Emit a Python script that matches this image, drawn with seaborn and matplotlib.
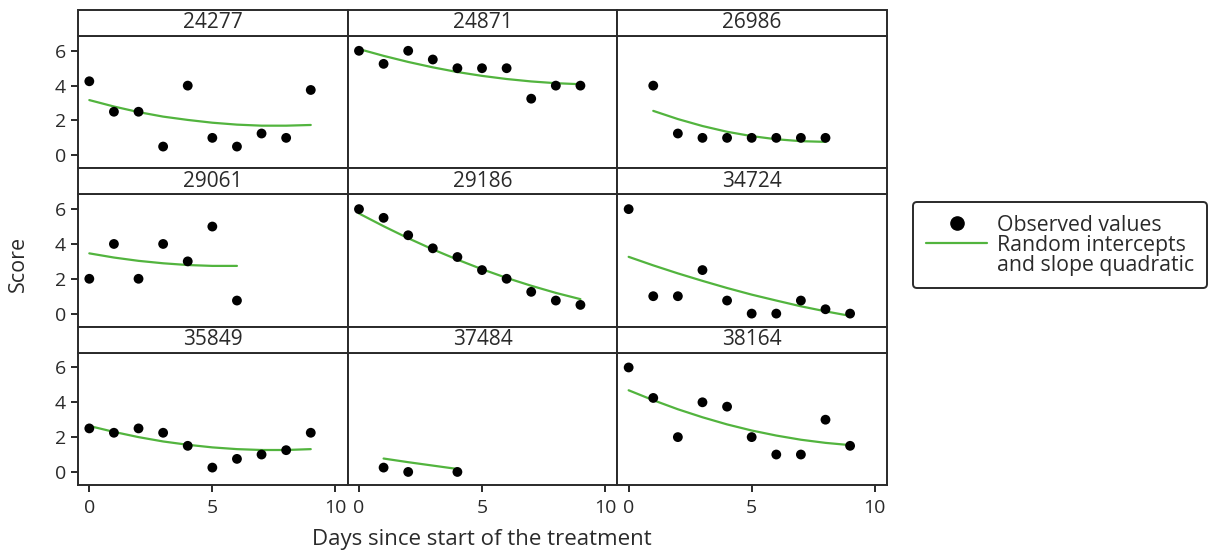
import numpy as np
import pandas as pd
import matplotlib
matplotlib.use("Agg")
import matplotlib.pyplot as plt
from matplotlib.patches import Rectangle
from matplotlib.lines import Line2D
import seaborn as sns

# Subject identifiers, in panel order
subjects = ["24277", "24871", "26986", "29061", "29186",
            "34724", "35849", "37484", "38164"]

# Days on which each subject was scored
days_24277 = [0, 1, 2, 3, 4, 5, 6, 7, 8, 9]
days_24871 = [0, 1, 2, 3, 4, 5, 6, 7, 8, 9]
days_26986 = [1, 2, 3, 4, 5, 6, 7, 8]
days_29061 = [0, 1, 2, 3, 4, 5, 6]
days_29186 = [0, 1, 2, 3, 4, 5, 6, 7, 8, 9]
days_34724 = [0, 1, 2, 3, 4, 5, 6, 7, 8, 9]
days_35849 = [0, 1, 2, 3, 4, 5, 6, 7, 8, 9]
days_37484 = [1, 2, 4]
days_38164 = [0, 1, 2, 3, 4, 5, 6, 7, 8, 9]

# Observed scores
obs_24277 = [4.25, 2.5, 2.5, 0.5, 4.0, 1.0, 0.5, 1.25, 1.0, 3.75]
obs_24871 = [6.0, 5.25, 6.0, 5.5, 5.0, 5.0, 5.0, 3.25, 4.0, 4.0]
obs_26986 = [4.0, 1.25, 1.0, 1.0, 1.0, 1.0, 1.0, 1.0]
obs_29061 = [2.0, 4.0, 2.0, 4.0, 3.0, 5.0, 0.75]
obs_29186 = [6.0, 5.5, 4.5, 3.75, 3.25, 2.5, 2.0, 1.25, 0.75, 0.5]
obs_34724 = [6.0, 1.0, 1.0, 2.5, 0.75, 0.0, 0.0, 0.75, 0.25, 0.0]
obs_35849 = [2.5, 2.25, 2.5, 2.25, 1.5, 0.25, 0.75, 1.0, 1.25, 2.25]
obs_37484 = [0.25, 0.0, 0.0]
obs_38164 = [6.0, 4.25, 2.0, 4.0, 3.75, 2.0, 1.0, 1.0, 3.0, 1.5]

# Fitted values from the random intercepts and slope quadratic model
fit_24277 = [3.17, 2.80, 2.48, 2.22, 2.03, 1.87, 1.76, 1.70, 1.70, 1.74]
fit_24871 = [6.10, 5.71, 5.36, 5.05, 4.78, 4.56, 4.38, 4.24, 4.14, 4.08]
fit_26986 = [2.55, 2.08, 1.68, 1.35, 1.10, 0.92, 0.81, 0.77]
fit_29061 = [3.46, 3.22, 3.03, 2.89, 2.79, 2.74, 2.74]
fit_29186 = [5.75, 5.02, 4.33, 3.69, 3.10, 2.55, 2.05, 1.60, 1.19, 0.83]
fit_34724 = [3.26, 2.77, 2.31, 1.88, 1.47, 1.09, 0.75, 0.42, 0.13, -0.13]
fit_35849 = [2.64, 2.30, 2.00, 1.75, 1.56, 1.41, 1.31, 1.26, 1.26, 1.31]
fit_37484 = [0.77, 0.56, 0.17]
fit_38164 = [4.69, 4.12, 3.60, 3.14, 2.73, 2.38, 2.09, 1.85, 1.67, 1.54]

days_all = [days_24277, days_24871, days_26986, days_29061, days_29186,
            days_34724, days_35849, days_37484, days_38164]
obs_all = [obs_24277, obs_24871, obs_26986, obs_29061, obs_29186,
           obs_34724, obs_35849, obs_37484, obs_38164]
fit_all = [fit_24277, fit_24871, fit_26986, fit_29061, fit_29186,
           fit_34724, fit_35849, fit_37484, fit_38164]

x_ticks = [0, 5, 10]
y_ticks = [0, 2, 4, 6]

rows = []
for sid, d, o, f in zip(subjects, days_all, obs_all, fit_all):
    for di, oi, fi in zip(d, o, f):
        rows.append({"subject": sid, "day": di, "score": oi, "fitted": fi})
df = pd.DataFrame(rows)

sns.set_style("ticks")
plt.rcParams["font.family"] = ["Open Sans", "DejaVu Sans"]
INK = "#2a2a2a"
GREEN = "#52b43e"
plt.rcParams.update({
    "text.color": INK, "axes.edgecolor": INK, "xtick.color": INK,
    "ytick.color": INK, "axes.labelcolor": INK, "axes.linewidth": 1.4,
    "xtick.major.width": 1.4, "ytick.major.width": 1.4,
    "xtick.major.size": 5, "ytick.major.size": 5,
    "xtick.labelsize": 14, "ytick.labelsize": 14,
})

g = sns.FacetGrid(df, col="subject", col_wrap=3, col_order=subjects,
                  sharex=True, sharey=True, despine=False, height=2, aspect=1.5)
g.map_dataframe(sns.lineplot, x="day", y="fitted", color=GREEN, lw=1.6,
                estimator=None, sort=True)
g.map_dataframe(sns.scatterplot, x="day", y="score", color="black",
                s=50, edgecolor="none", zorder=3)

fig = g.figure
fig.set_size_inches(12.14, 5.56)

W, H = 1214.0, 556.0
left, right = 78 / W, 887 / W
top, bottom = 1 - 36 / H, 1 - 485 / H
panel_h = (449 - 2 * 26) / 3.0
fig.subplots_adjust(left=left, right=right, top=top, bottom=bottom,
                    wspace=0.0, hspace=26 / panel_h)

strip_frac = 26 / panel_h
axes = g.axes.flatten()
for i, (ax, sid) in enumerate(zip(axes, subjects)):
    r, c = divmod(i, 3)
    ax.set_xlim(-0.46, 10.5)
    ax.set_ylim(-0.75, 6.85)
    ax.set_xticks(x_ticks)
    ax.set_yticks(y_ticks)
    ax.set_title("")
    ax.set_xlabel("")
    ax.set_ylabel("")
    for sp in ax.spines.values():
        sp.set_linewidth(1.4)
        sp.set_color(INK)
    if c != 0:
        ax.tick_params(axis="y", length=0, labelleft=False)
    if r != 2:
        ax.tick_params(axis="x", length=0, labelbottom=False)
    else:
        ax.tick_params(axis="x", labelbottom=True, pad=5)
    # strip header above each panel
    ax.add_patch(Rectangle((0, 1), 1, strip_frac, transform=ax.transAxes,
                           facecolor="white", edgecolor=INK, lw=1.4,
                           clip_on=False, zorder=5))
    ax.text(0.5, 1 + strip_frac / 2, sid, transform=ax.transAxes,
            ha="center", va="center", fontsize=15, zorder=6)

fig.text(18 / W, 1 - 264 / H, "Score", rotation=90, ha="center", va="center",
         fontsize=15.5)
fig.text(482 / W, 1 - 539 / H, "Days since start of the treatment",
         ha="center", va="center", fontsize=16)

handles = [
    Line2D([], [], ls="none", marker="o", color="black", markersize=9.5),
    Line2D([], [], color=GREEN, lw=1.6),
    Line2D([], [], ls="none"),
]
labels = ["Observed values", "Random intercepts", "and slope quadratic"]
leg = fig.legend(handles, labels, loc="upper left",
                 bbox_to_anchor=(913 / W, 1 - 202 / H),
                 frameon=True, fancybox=True, fontsize=15.3,
                 handlelength=2.9, handletextpad=0.45, labelspacing=-0.05,
                 borderpad=0.6, borderaxespad=0)
frame = leg.get_frame()
frame.set_edgecolor(INK)
frame.set_linewidth(1.4)
frame.set_alpha(1)

fig.savefig("out.png", dpi=100)
